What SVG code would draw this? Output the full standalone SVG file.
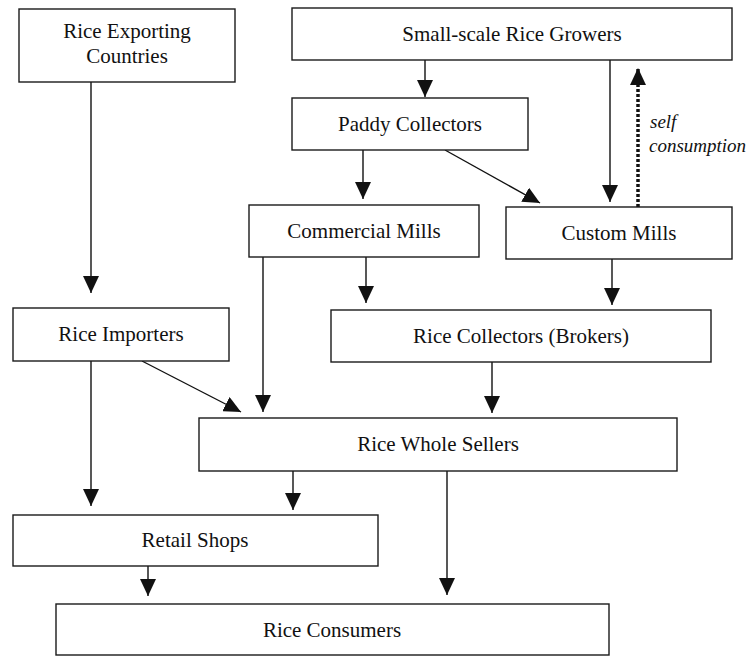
<svg xmlns="http://www.w3.org/2000/svg" width="746" height="657" viewBox="0 0 746 657">
  <defs>
    <style>
      .box { fill: #ffffff; stroke: #1a1a1a; stroke-width: 1.4; }
      .lbl { font-family: "Liberation Serif", "Times New Roman", serif; font-size: 21px; fill: #111111; text-anchor: middle; }
      .note { font-family: "Liberation Serif", "Times New Roman", serif; font-size: 19px; font-style: italic; fill: #111111; }
      .edge { fill: none; stroke: #111111; stroke-width: 1.4; marker-end: url(#arrow); }
      .dotted { fill: none; stroke: #111111; stroke-width: 3.5; stroke-dasharray: 3 2; marker-end: url(#arrow); }
    </style>
    <marker id="arrow" markerUnits="userSpaceOnUse" markerWidth="17" markerHeight="16" refX="17" refY="8" orient="auto" viewBox="0 0 17 16">
      <path d="M0,0 L17,8 L0,16 Z" fill="#111111"/>
    </marker>
  </defs>

  <rect width="746" height="657" fill="#ffffff"/>

  <!-- connectors -->
  <g id="connectors">
    <line class="edge" x1="91" y1="82" x2="91" y2="293"/>
    <line class="edge" x1="425" y1="60" x2="425" y2="97"/>
    <line class="edge" x1="363" y1="150" x2="363" y2="199"/>
    <line class="edge" x1="445" y1="150" x2="540" y2="203"/>
    <line class="edge" x1="610" y1="60" x2="610" y2="202"/>
    <line class="dotted" x1="638" y1="207" x2="638" y2="68"/>
    <line class="edge" x1="366" y1="257" x2="366" y2="303"/>
    <line class="edge" x1="612" y1="259" x2="612" y2="305"/>
    <line class="edge" x1="263" y1="257" x2="263" y2="412"/>
    <line class="edge" x1="142" y1="361" x2="241" y2="412"/>
    <line class="edge" x1="492" y1="362" x2="492" y2="413"/>
    <line class="edge" x1="91" y1="361" x2="91" y2="506"/>
    <line class="edge" x1="293" y1="471" x2="293" y2="510"/>
    <line class="edge" x1="447" y1="471" x2="447" y2="595"/>
    <line class="edge" x1="148" y1="566" x2="148" y2="596"/>
  </g>

  <text class="note" x="650" y="128">self</text>
  <text class="note" x="649" y="152">consumption</text>

  <!-- nodes -->
  <g id="rice-exporting-countries">
    <rect class="box" x="19" y="9" width="216" height="73"/>
    <text class="lbl" x="127" y="38">Rice Exporting</text>
    <text class="lbl" x="127" y="63">Countries</text>
  </g>
  <g id="small-scale-rice-growers">
    <rect class="box" x="292" y="8" width="440" height="52"/>
    <text class="lbl" x="512" y="41">Small-scale Rice Growers</text>
  </g>
  <g id="paddy-collectors">
    <rect class="box" x="292" y="98" width="236" height="52"/>
    <text class="lbl" x="410" y="131">Paddy Collectors</text>
  </g>
  <g id="commercial-mills">
    <rect class="box" x="249" y="205" width="230" height="52"/>
    <text class="lbl" x="364" y="238">Commercial Mills</text>
  </g>
  <g id="custom-mills">
    <rect class="box" x="506" y="207" width="226" height="52"/>
    <text class="lbl" x="619" y="240">Custom Mills</text>
  </g>
  <g id="rice-importers">
    <rect class="box" x="13" y="308" width="216" height="53"/>
    <text class="lbl" x="121" y="341">Rice Importers</text>
  </g>
  <g id="rice-collectors">
    <rect class="box" x="331" y="310" width="380" height="52"/>
    <text class="lbl" x="521" y="343">Rice Collectors (Brokers)</text>
  </g>
  <g id="rice-whole-sellers">
    <rect class="box" x="199" y="418" width="478" height="53"/>
    <text class="lbl" x="438" y="451">Rice Whole Sellers</text>
  </g>
  <g id="retail-shops">
    <rect class="box" x="13" y="515" width="365" height="51"/>
    <text class="lbl" x="195" y="547">Retail Shops</text>
  </g>
  <g id="rice-consumers">
    <rect class="box" x="56" y="604" width="553" height="51"/>
    <text class="lbl" x="332" y="637">Rice Consumers</text>
  </g>
</svg>
